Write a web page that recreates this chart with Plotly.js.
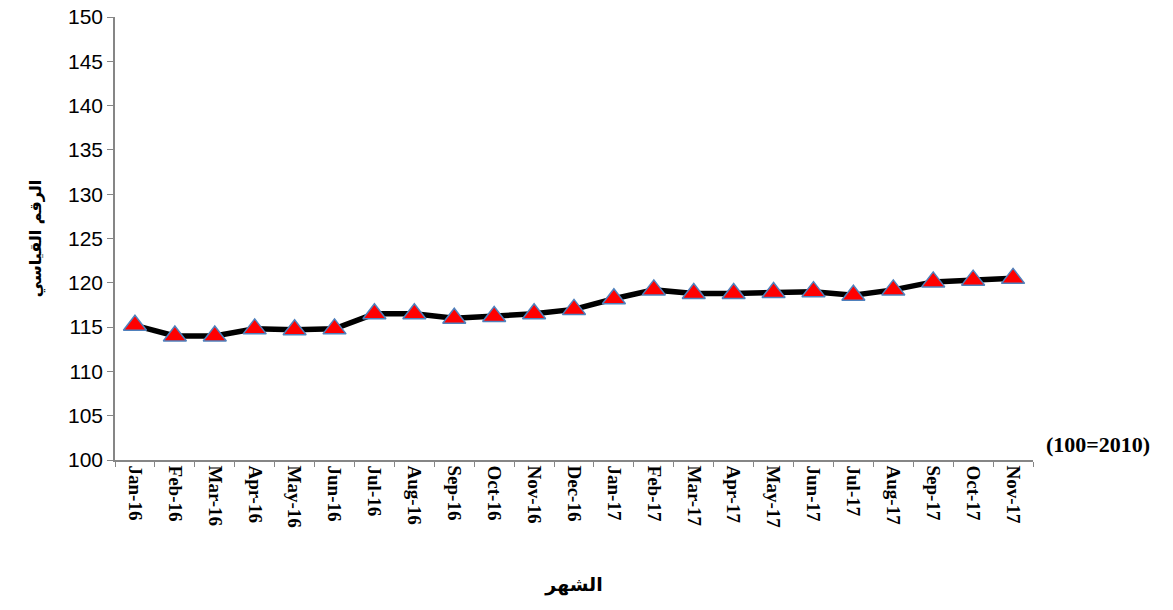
<!DOCTYPE html>
<html>
<head>
<meta charset="utf-8">
<script src="https://cdn.plot.ly/plotly-3.0.1.min.js"></script>
<style>html,body{margin:0;padding:0;background:#fff;}#chart{width:1173px;height:610px;}</style>
</head>
<body>
<div id="chart"></div>
<script>
const months = ["Jan-16","Feb-16","Mar-16","Apr-16","May-16","Jun-16","Jul-16","Aug-16","Sep-16","Oct-16","Nov-16","Dec-16",
  "Jan-17","Feb-17","Mar-17","Apr-17","May-17","Jun-17","Jul-17","Aug-17","Sep-17","Oct-17","Nov-17"];
const indexValues = [115.2,114.0,114.0,114.8,114.7,114.8,116.5,116.5,116.0,116.2,116.5,117.0,
  118.2,119.2,118.8,118.8,118.9,119.0,118.6,119.2,120.1,120.3,120.5];
const yTitle = "الرقم القياسي";
const xTitle = "الشهر";
const baseNote = "(100=2010)";

const trace = {
  x: months, y: indexValues, type: "scatter", mode: "lines+markers",
  line: {color: "#000000", width: 5.5},
  marker: {symbol: "triangle-up", size: 20, color: "#FF0000", line: {color: "#4F81BD", width: 1.5}},
  hoverinfo: "x+y"
};

const layout = {
  width: 1173, height: 610,
  margin: {l: 115, r: 140, t: 17, b: 150},
  paper_bgcolor: "#fff", plot_bgcolor: "#fff",
  showlegend: false,
  xaxis: {
    type: "category", range: [-0.5, months.length - 0.5], autorange: false,
    showline: true, linecolor: "#868686", linewidth: 1.5,
    ticks: "outside", tickson: "boundaries", ticklen: 5, tickcolor: "#868686",
    tickangle: 90, showgrid: false, zeroline: false,
    tickfont: {family: "Liberation Serif", size: 19, color: "#000", weight: "bold"},
    title: {text: "<b>" + xTitle + "</b>", font: {family: "DejaVu Sans", size: 19, color: "#000"}, standoff: 50}
  },
  yaxis: {
    range: [100, 150], autorange: false, dtick: 5, tick0: 100, showline: true, linecolor: "#868686", linewidth: 1.5,
    ticks: "outside", ticklen: 6, tickcolor: "#868686", showgrid: false, zeroline: false,
    tickfont: {family: "Liberation Sans", size: 21, color: "#000"},
    title: {text: "<b>" + yTitle + "</b>", font: {family: "DejaVu Sans", size: 16, color: "#000"}, standoff: 22}
  },
  annotations: [{
    text: "<b>" + baseNote + "</b>", xref: "paper", yref: "paper", x: 1.0, y: 0.036,
    xanchor: "left", yanchor: "middle", xshift: 11, showarrow: false,
    font: {family: "Liberation Serif", size: 22, color: "#000"}
  }]
};

Plotly.newPlot("chart", [trace], layout, {displayModeBar: false});
</script>
</body>
</html>
